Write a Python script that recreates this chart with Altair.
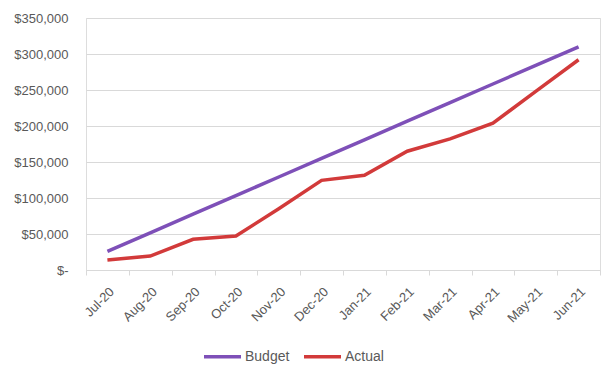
import altair as alt
import pandas as pd

months = ["Jul-20", "Aug-20", "Sep-20", "Oct-20", "Nov-20", "Dec-20",
          "Jan-21", "Feb-21", "Mar-21", "Apr-21", "May-21", "Jun-21"]
budget = [25833, 51667, 77500, 103333, 129167, 155000,
          180833, 206667, 232500, 258333, 284167, 310000]
actual = [13900, 19400, 42600, 47200, 85000, 124500,
          131500, 165000, 182000, 204000, 248000, 292000]
series = ["Budget", "Actual"]
colors = ["#7E50B8", "#D23A3A"]

rows = []
for i, m in enumerate(months):
    rows.append({"month": m, "series": "Budget", "value": budget[i]})
    rows.append({"month": m, "series": "Actual", "value": actual[i]})
df = pd.DataFrame(rows)

font = "Liberation Sans"
text_color = "#595959"

chart = alt.Chart(df).mark_line(strokeWidth=3.5).encode(
    x=alt.X("month:N", sort=months, title=None,
            scale=alt.Scale(paddingInner=0, paddingOuter=0),
            axis=alt.Axis(labelAngle=-45, labelFontSize=13, labelColor=text_color,
                          labelFont=font, domainColor="#d9d9d9", tickColor="#d9d9d9",
                          tickBand="extent", tickSize=5, labelPadding=10, grid=False)),
    y=alt.Y("value:Q", title=None,
            scale=alt.Scale(domain=[0, 350000], nice=False),
            axis=alt.Axis(values=[0, 50000, 100000, 150000, 200000, 250000, 300000, 350000],
                          labelExpr="datum.value == 0 ? '$-' : '$' + format(datum.value, ',')",
                          labelFontSize=13, labelColor=text_color, labelFont=font,
                          domain=False, ticks=False, labelPadding=18,
                          gridColor="#d9d9d9", gridWidth=1)),
    color=alt.Color("series:N", sort=series,
                    scale=alt.Scale(domain=series, range=colors),
                    legend=alt.Legend(title=None, orient="none", direction="horizontal",
                                      legendX=116, legendY=318,
                                      symbolType="stroke", symbolStrokeWidth=3.5,
                                      symbolSize=1369, labelFontSize=14,
                                      labelColor=text_color, labelFont=font,
                                      columnPadding=7, labelOffset=2)),
    detail="series:N",
).properties(
    width=514, height=252,
    autosize=alt.AutoSizeParams(type="none"),
    padding={"left": 86, "top": 18, "right": 1, "bottom": 95},
).configure_view(stroke=None).configure(background="white")

chart.save("out.html", embed_options={"renderer": "svg", "actions": False})
